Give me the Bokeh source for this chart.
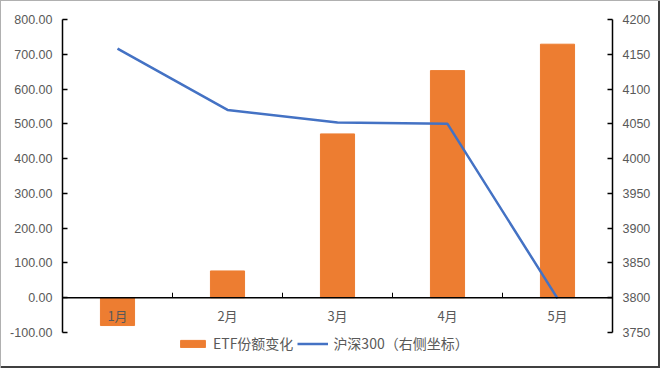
import numpy as np
from bokeh.plotting import figure
from bokeh.models import (Range1d, LinearAxis, FixedTicker, NumeralTickFormatter,
                          Legend, LegendItem, Span)
from bokeh.embed import file_html
from bokeh.resources import INLINE
from bokeh.core.properties import value

months = ["1月", "2月", "3月", "4月", "5月"]
etf_change = [-80, 77, 471, 653, 729]
hs300 = [4158, 4070, 4052, 4050, 3799]
left_ticks = list(range(-100, 801, 100))
right_ticks = list(range(3750, 4201, 50))

x = np.arange(len(months)) + 0.5
boundaries = np.arange(1, len(months))

GRAY = "#595959"
TICK_FONT = "Liberation Sans"
CJK = "Noto Sans CJK SC"

W, H = 660, 368
TOP, AXIS_BOTTOM = 19, 332          # pixel rows of the top / bottom tick
extra = (H - AXIS_BOTTOM) / (AXIS_BOTTOM - TOP)   # frame runs to canvas bottom

l0, l1 = left_ticks[0], left_ticks[-1]
r0, r1 = right_ticks[0], right_ticks[-1]

p = figure(width=W, height=H,
           x_range=Range1d(0, len(months)),
           y_range=Range1d(l0 - (l1 - l0) * extra, l1),
           x_axis_location=None,
           output_backend="svg", toolbar_location=None,
           min_border_left=62, min_border_right=48,
           min_border_top=TOP, min_border_bottom=0,
           styles={"box-shadow": "inset 1px 1px 0 #b0b0b0, inset -2px -2px 0 #404040"})
p.extra_y_ranges = {"right": Range1d(r0 - (r1 - r0) * extra, r1)}
p.grid.visible = False
p.outline_line_color = None
p.border_fill_alpha = 0
p.background_fill_alpha = 0


def style_axis(ax):
    ax.major_tick_in = 5
    ax.major_tick_out = 0
    ax.minor_tick_line_color = None
    ax.axis_line_color = "black"
    ax.axis_line_width = 1.5
    ax.major_tick_line_color = "black"
    ax.major_tick_line_width = 1.5
    ax.major_label_text_color = GRAY
    ax.major_label_text_font = TICK_FONT
    ax.major_label_text_font_size = "12.5px"
    ax.major_label_standoff = 10


yl = p.yaxis[0]
yl.ticker = FixedTicker(ticks=left_ticks)
yl.formatter = NumeralTickFormatter(format="0.00")
yl.bounds = (l0, l1)
style_axis(yl)

yr = LinearAxis(y_range_name="right", ticker=FixedTicker(ticks=right_ticks),
                bounds=(r0, r1))
style_axis(yr)
p.add_layout(yr, "right")

bars = p.vbar(x=x, top=etf_change, bottom=0, width=0.31, color="#ED7D31")
line = p.line(x, hs300, y_range_name="right", color="#4472C4", line_width=2.5)

p.add_layout(Span(location=0, dimension="width", line_color="black", line_width=1.5))
p.ray(x=boundaries, y=0, length=5, length_units="screen", angle=np.pi / 2,
      line_color="black", line_width=1)

p.text(x=x, y=0, text=months, y_offset=18, text_align="center",
       text_baseline="middle", text_font=value(CJK), text_font_size="13px",
       text_color=GRAY)

legend = Legend(items=[LegendItem(label="ETF份额变化", renderers=[bars]),
                       LegendItem(label="沪深300（右侧坐标）", renderers=[line])],
                orientation="horizontal", location=(115, 15),
                label_text_font=CJK, label_text_font_size="14px",
                label_text_color=GRAY, glyph_width=31, glyph_height=9,
                label_height=16, label_standoff=5, spacing=4, padding=2,
                margin=0, border_line_color=None, background_fill_alpha=0)
p.add_layout(legend)

open("out.html", "w").write(file_html(p, INLINE))
